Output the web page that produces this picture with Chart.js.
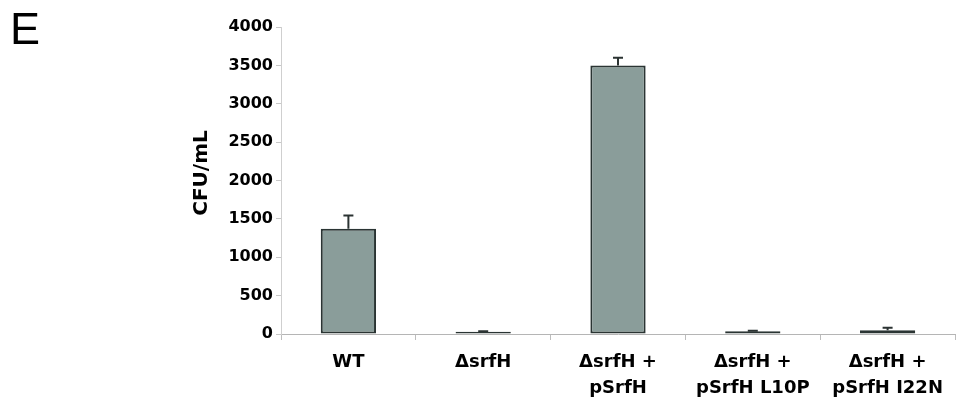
<!DOCTYPE html>
<html>
<head>
<meta charset="utf-8">
<script src="https://cdn.jsdelivr.net/npm/chart.js@4/dist/chart.umd.min.js"></script>
<style>
  html, body { margin: 0; padding: 0; background: #ffffff; }
  #wrap { position: relative; width: 959px; height: 402px; }
</style>
</head>
<body>
<div id="wrap"><canvas id="chart"></canvas></div>
<script>
// Strains tested
const categories = [
  'WT',
  '\u0394srfH',
  ['\u0394srfH +', 'pSrfH'],
  ['\u0394srfH +', 'pSrfH L10P'],
  ['\u0394srfH +', 'pSrfH I22N']
];
// Mean colony counts (CFU/mL) and their upper error bars
const cfuValues = [1370, 30, 3500, 35, 50];
const cfuErrors = [175, 5, 100, 8, 32];
const yTicks = [0, 500, 1000, 1500, 2000, 2500, 3000, 3500, 4000];

const FONT = '"DejaVu Sans", Verdana, sans-serif';

// Upper error bars with caps, positioned through the y scale
const errorBars = {
  id: 'errorBars',
  afterDatasetsDraw(chart) {
    const ctx = chart.ctx;
    const y = chart.scales.y;
    const meta = chart.getDatasetMeta(0);
    ctx.save();
    ctx.strokeStyle = '#2b3332';
    ctx.lineWidth = 2;
    meta.data.forEach((bar, i) => {
      const top = y.getPixelForValue(cfuValues[i]);
      const tip = y.getPixelForValue(cfuValues[i] + cfuErrors[i]);
      ctx.beginPath();
      ctx.moveTo(bar.x, top);
      ctx.lineTo(bar.x, tip);
      ctx.moveTo(bar.x - 5, tip);
      ctx.lineTo(bar.x + 5, tip);
      ctx.stroke();
    });
    ctx.restore();
  }
};

// Panel letter and y-axis title
const annotations = {
  id: 'annotations',
  afterDraw(chart) {
    const ctx = chart.ctx;
    ctx.save();
    ctx.fillStyle = '#000000';
    ctx.font = '45px "Liberation Sans", Arial, sans-serif';
    ctx.textAlign = 'left';
    ctx.textBaseline = 'alphabetic';
    ctx.fillText('E', 10, 44);

    ctx.translate(202, 173);
    ctx.rotate(-Math.PI / 2);
    ctx.font = 'bold 20px ' + FONT;
    ctx.textAlign = 'center';
    ctx.textBaseline = 'middle';
    ctx.fillText('CFU/mL', 0, 0);
    ctx.restore();
  }
};

new Chart(document.getElementById('chart'), {
  type: 'bar',
  data: {
    labels: categories,
    datasets: [{
      data: cfuValues,
      backgroundColor: '#8a9d9a',
      borderColor: '#2a3433',
      borderWidth: 2,
      borderSkipped: false,
      barPercentage: 0.41,
      categoryPercentage: 1.0
    }]
  },
  options: {
    responsive: true,
    maintainAspectRatio: false,
    animation: false,
    layout: { padding: { top: 27, right: 4, left: 0, bottom: 0 } },
    plugins: {
      legend: { display: false },
      tooltip: { enabled: false }
    },
    scales: {
      x: {
        offset: true,
        grid: {
          offset: true,
          drawOnChartArea: false,
          drawTicks: true,
          tickLength: 6,
          color: '#bdbdbd'
        },
        border: { color: '#b5b5b5', width: 1 },
        ticks: {
          color: '#000000',
          font: { family: FONT, size: 18, weight: 'bold', lineHeight: 1.45 },
          maxRotation: 0,
          minRotation: 0,
          autoSkip: false,
          padding: 9
        },
        afterFit(scale) { scale.height = 68; }
      },
      y: {
        min: 0,
        max: 4000,
        afterBuildTicks(scale) { scale.ticks = yTicks.map(v => ({ value: v })); },
        grid: {
          drawOnChartArea: false,
          drawTicks: true,
          tickLength: 5,
          color: '#c8c8c8'
        },
        border: { color: '#cfcfcf', width: 1 },
        ticks: {
          color: '#000000',
          font: { family: FONT, size: 16, weight: 'bold' },
          padding: 3,
          callback: (v) => String(v)
        },
        afterFit(scale) { scale.width = 281; }
      }
    }
  },
  plugins: [errorBars, annotations]
});
</script>
</body>
</html>
